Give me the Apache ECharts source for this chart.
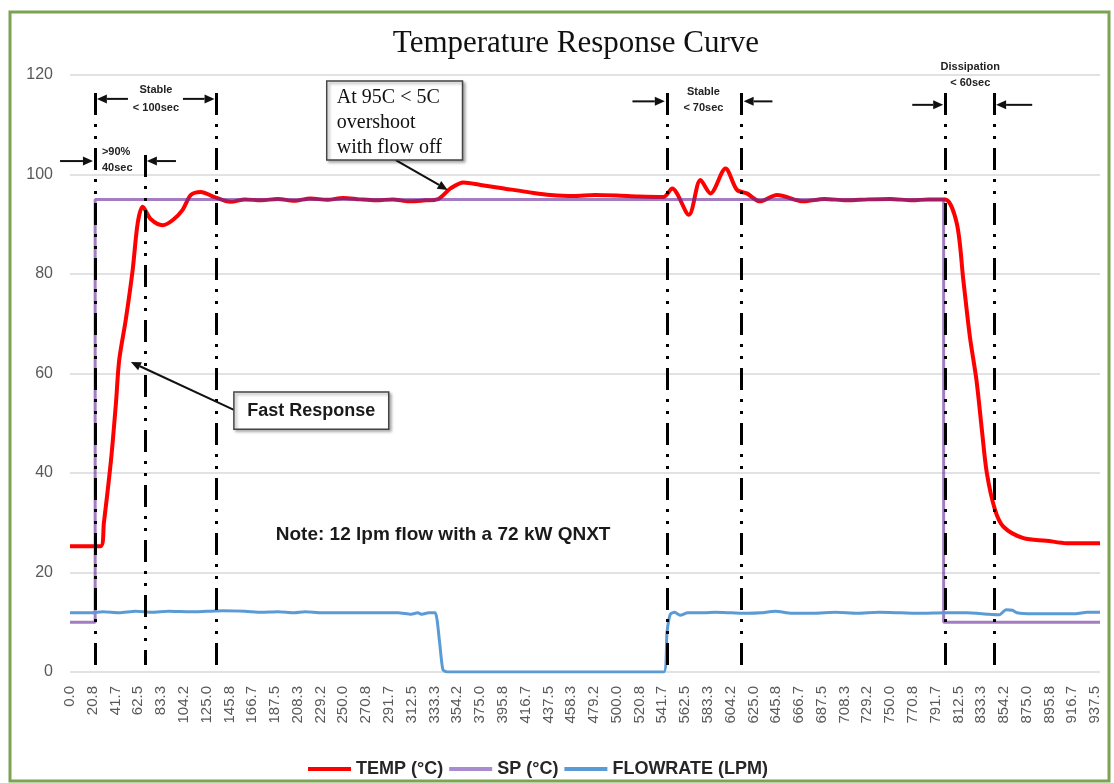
<!DOCTYPE html>
<html>
<head>
<meta charset="utf-8">
<title>Temperature Response Curve</title>
<script src="https://cdn.jsdelivr.net/npm/echarts@6/dist/echarts.min.js"></script>
<style>
  html, body { margin: 0; padding: 0; background: #fff; }
  #chart { width: 1114px; height: 783px; }
</style>
</head>
<body>
<div id="chart"></div>
<script>
// x axis tick labels (seconds)
var xStep = 937.5 / 45;
var xLabels = ['0.0','20.8','41.7','62.5','83.3','104.2','125.0','145.8','166.7','187.5',
  '208.3','229.2','250.0','270.8','291.7','312.5','333.3','354.2','375.0','395.8',
  '416.7','437.5','458.3','479.2','500.0','520.8','541.7','562.5','583.3','604.2',
  '625.0','645.8','666.7','687.5','708.3','729.2','750.0','770.8','791.7','812.5',
  '833.3','854.2','875.0','895.8','916.7','937.5'];

// TEMP (°C)
var tempTime = [0, 28, 31, 37.5, 42, 45, 51, 57.3, 61.9, 66.4,
  74, 84.7, 93.8, 103, 110.6, 119.7, 131.6, 147, 160, 175,
  190, 205, 220, 235, 250, 265, 280, 295, 310, 325,
  336, 348, 360, 375.5, 393.8, 424, 439.5, 460, 480, 500,
  520, 543, 550.7, 566, 576.6, 585.8, 599.5, 610, 619, 631,
  646.6, 670.7, 690, 710, 730, 750, 770, 785, 800.4, 811,
  817, 823, 829, 834, 838.5, 846, 853.7, 872, 893, 911.6, 942];
var tempVal = [25.3, 25.3, 30, 42.6, 54, 62.7, 70.8, 80.8, 90.2, 93.5,
  91, 89.8, 90.8, 92.9, 95.9, 96.5, 95.5, 94.5, 95.0, 94.8,
  95.1, 94.7, 95.2, 94.9, 95.3, 95.0, 94.8, 95.0, 94.6, 94.8,
  95.0, 97.2, 98.4, 97.9, 97.3, 96.3, 95.9, 95.7, 95.9, 95.8,
  95.6, 95.5, 97.2, 91.9, 98.9, 96.2, 101.2, 96.9, 96.2, 94.6,
  95.9, 94.6, 95.1, 94.8, 95.0, 95.1, 94.8, 95.0, 95.0, 90.2,
  78.8, 67.4, 58.7, 48.6, 40, 32.6, 29.2, 26.9, 26.4, 25.9, 25.9];

// SP (°C)
var spTime = [0, 23, 23, 799, 799, 942];
var spVal = [10, 10, 95, 95, 10, 10];

// FLOWRATE (LPM)
var flowTime = [0, 20, 30, 45, 60, 75, 90, 110, 125, 140,
  160, 175, 190, 205, 215, 230, 260, 300, 312, 318,
  322, 328, 334, 338, 341, 345, 543, 546, 549, 553,
  558, 565, 580, 590, 605, 620, 632, 645, 660, 680,
  700, 720, 740, 760, 780, 800, 820, 840, 850, 856,
  862, 866, 880, 920, 930, 942];
var flowVal = [11.9, 11.9, 12.1, 11.9, 12.2, 12.0, 12.2, 12.1, 12.2, 12.3,
  12.2, 12.0, 12.1, 11.9, 12.1, 11.9, 11.9, 11.9, 11.6, 11.9,
  11.6, 11.9, 11.9, 6, 0.5, 0, 0, 8, 11.6, 12.0,
  11.4, 11.9, 11.9, 12.0, 11.9, 11.8, 11.9, 12.2, 11.8, 11.8,
  12.0, 11.8, 12.0, 11.9, 11.8, 11.9, 11.9, 11.6, 11.5, 12.5,
  12.4, 11.9, 11.7, 11.7, 12.0, 12.0];

// dash-dot marker lines: time and top value
var markerTime = [22.8, 68.5, 133.9, 545.8, 614.3, 800.4, 845.2];
var markerTop = [116.4, 103.9, 116.4, 116.4, 116.4, 116.4, 116.4];

// dimension arrows [tailT, tailV, headT, headV]
var arrows = [
  [53, 115.2, 24.6, 115.2], [103.3, 115.2, 132.2, 115.2],
  [-9.1, 102.7, 21.0, 102.7], [96.9, 102.7, 70.3, 102.7],
  [514.4, 114.7, 544.0, 114.7], [642.4, 114.7, 616.1, 114.7],
  [770.3, 114, 798.6, 114], [880, 114, 847.0, 114],
  [297.9, 102.9, 345.4, 96.9], [149.9, 52.7, 55.7, 62.3]
];
// small labels [t, v, text, align]
var smallLabels = [
  [78.6, 117, 'Stable', 'center'], [78.6, 113.4, '< 100sec', 'center'],
  [29.2, 104.5, '>90%', 'left'], [29.2, 101.4, '40sec', 'left'],
  [579.3, 116.6, 'Stable', 'center'], [579.3, 113.4, '< 70sec', 'center'],
  [823.3, 121.6, 'Dissipation', 'center'], [823.3, 118.4, '< 60sec', 'center']
];

function pairs(ts, vs) {
  return ts.map(function (t, i) { return [t, vs[i]]; });
}

var chart = echarts.init(document.getElementById('chart'));

var option = {
  animation: false,
  backgroundColor: '#fff',
  title: {
    text: 'Temperature Response Curve',
    left: 571,
    top: 23,
    textAlign: 'center',
    textStyle: { fontFamily: 'Liberation Serif', fontSize: 31, fontWeight: 'normal', color: '#111' }
  },
  legend: {
    left: 303,
    top: 755,
    itemWidth: 43,
    itemHeight: 4,
    itemGap: 6,
    icon: 'rect',
    textStyle: { fontFamily: 'Liberation Sans', fontSize: 18, fontWeight: 'bold', color: '#262626' },
    data: ['TEMP (°C)', 'SP (°C)', 'FLOWRATE (LPM)']
  },
  grid: { left: 70, right: 14, top: 75, bottom: 111 },
  xAxis: {
    type: 'value',
    min: 0,
    max: 942,
    interval: xStep,
    axisLine: { show: false },
    axisTick: { show: false },
    splitLine: { show: false },
    axisLabel: {
      rotate: 90,
      margin: 14,
      color: '#595959',
      fontFamily: 'Liberation Sans',
      fontSize: 15,
      formatter: function (v) {
        var i = Math.round(v / xStep);
        if (Math.abs(v - i * xStep) > 0.01) return '';
        return xLabels[i] || '';
      }
    }
  },
  yAxis: {
    type: 'value',
    min: 0,
    max: 120,
    interval: 20,
    axisLine: { show: false },
    axisTick: { show: false },
    splitLine: { lineStyle: { color: '#d9d9d9', width: 1.5 } },
    axisLabel: { margin: 17, color: '#595959', fontFamily: 'Liberation Sans', fontSize: 16 }
  },
  series: [
    {
      name: 'TEMP (°C)',
      type: 'line',
      data: pairs(tempTime, tempVal),
      showSymbol: false,
      smooth: 0.3,
      itemStyle: { color: '#ff0000' },
      lineStyle: { color: '#ff0000', width: 4 }
    },
    {
      name: 'SP (°C)',
      type: 'line',
      data: pairs(spTime, spVal),
      showSymbol: false,
      itemStyle: { color: '#a98bd0' },
      lineStyle: { color: '#6a2c9c', width: 3, opacity: 0.62 }
    },
    {
      name: 'FLOWRATE (LPM)',
      type: 'line',
      data: pairs(flowTime, flowVal),
      showSymbol: false,
      smooth: 0.2,
      itemStyle: { color: '#5b9bd5' },
      lineStyle: { color: '#5b9bd5', width: 3 },
      markLine: {
        silent: true,
        symbol: 'none',
        label: { show: false },
        lineStyle: { color: '#000', width: 3, type: [22, 9, 3, 9, 3, 9], opacity: 1 },
        data: markerTime.map(function (t, i) {
          return [{ coord: [t, markerTop[i]] }, { coord: [t, 1.4] }];
        })
      }
    }
  ]
};

chart.setOption(option);

// annotations placed through the chart's own scales
function px(t, v) { return chart.convertToPixel({ gridIndex: 0 }, [t, v]); }

function arrow(a) {
  var p1 = px(a[0], a[1]), p2 = px(a[2], a[3]);
  var dx = p2[0] - p1[0], dy = p2[1] - p1[1];
  var len = Math.sqrt(dx * dx + dy * dy);
  var ux = dx / len, uy = dy / len;
  var hl = 10, hw = 4.5;
  var bx = p2[0] - ux * hl, by = p2[1] - uy * hl;
  return [
    { type: 'line', silent: true, z: 20,
      shape: { x1: p1[0], y1: p1[1], x2: bx, y2: by },
      style: { stroke: '#111', lineWidth: 2 } },
    { type: 'polygon', silent: true, z: 20,
      shape: { points: [[p2[0], p2[1]], [bx - uy * hw, by + ux * hw], [bx + uy * hw, by - ux * hw]] },
      style: { fill: '#111' } }
  ];
}

var g = [];
g.push({ type: 'rect', silent: true, z: 1,
  shape: { x: 10, y: 12, width: 1099, height: 769 },
  style: { fill: 'none', stroke: '#7ba350', lineWidth: 3 } });

arrows.forEach(function (a) { g = g.concat(arrow(a)); });

smallLabels.forEach(function (s) {
  var p = px(s[0], s[1]);
  g.push({ type: 'text', silent: true, z: 20, x: p[0], y: p[1],
    style: { text: s[2], fill: '#222', fontFamily: 'Liberation Sans', fontWeight: 'bold', fontSize: 11,
      align: s[3], verticalAlign: 'middle' } });
});

// overshoot box
var b1a = px(234.8, 118.8), b1b = px(359, 102.9);
g.push({ type: 'rect', silent: true, z: 21,
  shape: { x: b1a[0], y: b1a[1], width: b1b[0] - b1a[0], height: b1b[1] - b1a[1] },
  style: { fill: '#fff', stroke: '#444', lineWidth: 1.5, shadowBlur: 3, shadowOffsetX: 2, shadowOffsetY: 2, shadowColor: 'rgba(0,0,0,0.35)' } });
var b1t = px(244, 115.6);
g.push({ type: 'text', silent: true, z: 22, x: b1t[0], y: b1t[1] - 12,
  style: { text: 'At 95C < 5C\novershoot\nwith flow off', fill: '#111', fontFamily: 'Liberation Serif',
    fontSize: 20, lineHeight: 25, align: 'left', verticalAlign: 'top' } });

// fast response box
var b2a = px(149.9, 56.3), b2b = px(291.5, 48.8);
g.push({ type: 'rect', silent: true, z: 21,
  shape: { x: b2a[0], y: b2a[1], width: b2b[0] - b2a[0], height: b2b[1] - b2a[1] },
  style: { fill: '#fff', stroke: '#444', lineWidth: 1.5, shadowBlur: 3, shadowOffsetX: 2, shadowOffsetY: 2, shadowColor: 'rgba(0,0,0,0.35)' } });
g.push({ type: 'text', silent: true, z: 22, x: (b2a[0] + b2b[0]) / 2, y: (b2a[1] + b2b[1]) / 2,
  style: { text: 'Fast Response', fill: '#1a1a1a', fontFamily: 'Liberation Sans', fontWeight: 'bold',
    fontSize: 18, align: 'center', verticalAlign: 'middle' } });

// note
var np = px(188.2, 27.5);
g.push({ type: 'text', silent: true, z: 22, x: np[0], y: np[1],
  style: { text: 'Note: 12 lpm flow with a 72 kW QNXT', fill: '#1a1a1a', fontFamily: 'Liberation Sans',
    fontWeight: 'bold', fontSize: 19, align: 'left', verticalAlign: 'middle' } });

chart.setOption({ graphic: g });
</script>
</body>
</html>
